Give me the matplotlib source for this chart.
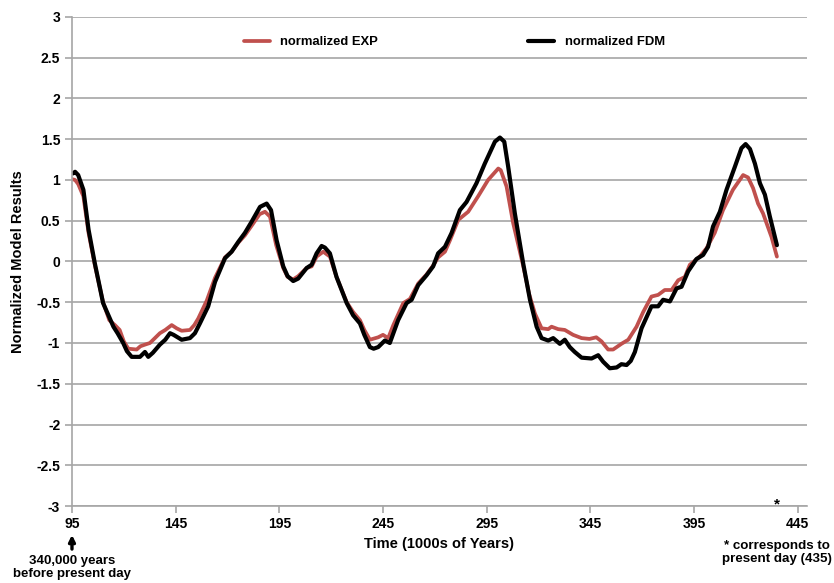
import matplotlib
matplotlib.use("Agg")
import matplotlib.pyplot as plt

plt.rcParams['font.family'] = ['Liberation Sans', 'DejaVu Sans']
plt.rcParams['font.weight'] = 'bold'

# normalized EXP (red)
exp_x = [95, 96.5, 98, 100.5, 103, 106, 110, 113, 115.7, 118, 120, 122.2, 126.2, 128, 130.2,
         132.6, 135, 137.4, 140, 143.1, 145.5, 147.9, 151.9, 154, 155.9, 160, 164, 168.8, 172,
         175.2, 178.4, 181.7, 185.5, 188.1, 190.5, 193.5, 196.9, 199, 201.7, 204.1, 208.2, 210.6,
         213, 216.2, 219.4, 222.6, 227.5, 230.6, 233.9, 236, 238.7, 242.7, 245, 247.5, 250, 254.8,
         258, 262, 266, 269.2, 271.6, 274.9, 277.3, 281.3, 286.1, 290.9, 295.7, 300.6, 301.8,
         304.6, 307.8, 312.6, 315.5, 318.3, 321.5, 324.7, 326.3, 329.5, 332.7, 336.7, 340.8,
         344.6, 347.9, 350.4, 353.6, 356, 360, 363.3, 367.3, 370.5, 374.5, 377.7, 380.9, 384.2,
         387.4, 390.6, 393, 397.8, 401, 405, 409, 413.8, 418.7, 421.1, 423.5, 425.9, 428.3,
         432.4, 435]
exp_y = [1.01, 1.00, 0.95, 0.80, 0.35, -0.04, -0.50, -0.72, -0.78, -0.84, -0.98, -1.07, -1.08,
         -1.04, -1.02, -1.00, -0.94, -0.88, -0.84, -0.78, -0.82, -0.85, -0.84, -0.78, -0.70,
         -0.48, -0.20, 0.05, 0.12, 0.23, 0.32, 0.44, 0.58, 0.61, 0.55, 0.20, -0.08, -0.19, -0.22,
         -0.18, -0.08, -0.06, 0.06, 0.12, 0.06, -0.19, -0.50, -0.62, -0.72, -0.84, -0.96, -0.93,
         -0.90, -0.94, -0.78, -0.51, -0.46, -0.27, -0.16, -0.05, 0.05, 0.12, 0.26, 0.51, 0.61,
         0.80, 1.00, 1.14, 1.12, 0.92, 0.47, -0.05, -0.40, -0.64, -0.82, -0.83, -0.80, -0.83,
         -0.84, -0.90, -0.94, -0.95, -0.93, -0.98, -1.08, -1.08, -1.01, -0.96, -0.80, -0.62,
         -0.43, -0.41, -0.35, -0.35, -0.23, -0.19, -0.04, 0.06, 0.16, 0.35, 0.63, 0.88, 1.06,
         1.03, 0.90, 0.71, 0.59, 0.30, 0.06]

# normalized FDM (black)
fdm_x = [95.5, 96.5, 98, 100.5, 103, 106, 110, 115, 117, 119.7, 121.5, 123.8, 127.8, 130.2,
         131.8, 134, 137.4, 140, 142.3, 144, 147.9, 151.9, 154.3, 156.7, 160.7, 164, 168.8, 172,
         175.2, 178.4, 181.7, 185.7, 188.9, 191, 193.7, 196.9, 199, 201.7, 204.1, 208.2, 210.6,
         213, 215.4, 217, 219.4, 222.6, 227.5, 230.6, 233.9, 236, 238.7, 240.5, 242.7, 245.9,
         248.3, 252.3, 256.4, 258.8, 262, 266, 269.2, 271.6, 274.9, 278.1, 282.1, 285.3, 290.1,
         294.1, 299, 301.4, 303.5, 305.4, 308.6, 312.6, 315.9, 319.1, 321.5, 324.7, 327.1, 330.3,
         332.7, 335.1, 337.5, 340.8, 345.6, 348.8, 351.2, 354.4, 357.7, 360, 362.5, 364.5, 366.5,
         369.7, 374.5, 377.7, 380.1, 383.4, 386.6, 389, 392.2, 396.2, 399.4, 401.8, 404.2, 407.5,
         410.7, 414.7, 417.9, 419.9, 422, 424.4, 426.8, 429.2, 431.6, 435]
fdm_y = [1.08, 1.10, 1.06, 0.88, 0.39, -0.02, -0.51, -0.80, -0.88, -1.00, -1.10, -1.17, -1.17,
         -1.11, -1.17, -1.12, -1.02, -0.96, -0.88, -0.90, -0.96, -0.94, -0.88, -0.76, -0.55,
         -0.25, 0.04, 0.12, 0.24, 0.35, 0.49, 0.67, 0.71, 0.63, 0.26, -0.06, -0.18, -0.24, -0.21,
         -0.08, -0.04, 0.10, 0.19, 0.17, 0.10, -0.19, -0.51, -0.66, -0.76, -0.90, -1.05, -1.07,
         -1.05, -0.97, -1.00, -0.72, -0.51, -0.47, -0.29, -0.17, -0.06, 0.10, 0.18, 0.35, 0.63,
         0.73, 0.96, 1.20, 1.47, 1.52, 1.47, 1.16, 0.59, -0.02, -0.47, -0.80, -0.94, -0.97, -0.94,
         -1.01, -0.96, -1.05, -1.11, -1.18, -1.19, -1.15, -1.23, -1.31, -1.30, -1.26, -1.27,
         -1.22, -1.11, -0.82, -0.55, -0.55, -0.47, -0.49, -0.33, -0.31, -0.12, 0.03, 0.08, 0.18,
         0.43, 0.61, 0.88, 1.16, 1.39, 1.44, 1.38, 1.20, 0.96, 0.82, 0.55, 0.20]

x_ticks = [95, 145, 195, 245, 295, 345, 395, 445]
y_ticks = [-3, -2.5, -2, -1.5, -1, -0.5, 0, 0.5, 1, 1.5, 2, 2.5, 3]

fig = plt.figure(figsize=(8.34, 5.83), dpi=100)
ax = fig.add_axes([0.0863, 0.132, 0.8813, 0.839])

ax.plot(exp_x, exp_y, color='#C0504D', lw=2.7, label='normalized EXP',
        solid_joinstyle='round', solid_capstyle='round')
ax.plot(fdm_x, fdm_y, color='black', lw=3.0, label='normalized FDM',
        solid_joinstyle='round', solid_capstyle='round')

ax.set_xlim(95, 449.5)
ax.set_ylim(-3, 3)
ax.set_xticks(x_ticks)
ax.set_yticks(y_ticks)
ax.set_yticklabels([f'{v:g}' for v in y_ticks])
ax.grid(axis='y', color='#a6a6a6', lw=1.2)
ax.set_axisbelow(True)
for s in ['top', 'right']:
    ax.spines[s].set_visible(False)
for s in ['left', 'bottom']:
    ax.spines[s].set_color('#a6a6a6')
    ax.spines[s].set_linewidth(1.2)
ax.tick_params(axis='both', colors='#a6a6a6', labelcolor='black', labelsize=10, length=5, width=1.2)
ax.tick_params(axis='x', pad=3)

ax.set_xlabel('Time (1000s of Years)', fontsize=10.5, fontweight='bold', labelpad=4)
ax.set_ylabel('Normalized Model Results', fontsize=10.5, fontweight='bold', labelpad=8)

ax.legend(loc='upper center', bbox_to_anchor=(0.52, 0.985), ncol=2, frameon=False,
          handlelength=2.0, columnspacing=11.5, prop={'weight': 'bold', 'size': 9.4})

# notes under the axis
ax.annotate('', xy=(95, -0.059), xytext=(95, -0.088), xycoords=('data', 'axes fraction'),
            arrowprops=dict(arrowstyle='-|>', color='black', lw=2.4, mutation_scale=9,
                            shrinkA=0, shrinkB=0))
ax.text(95, -0.1, '340,000 years\nbefore present day', transform=ax.get_xaxis_transform(),
        ha='center', va='top', fontsize=9.5, fontweight='bold', linespacing=1.15)
ax.text(435, 0.004, '*', transform=ax.get_xaxis_transform(), ha='center', va='center',
        fontsize=11, fontweight='bold')
ax.text(435, -0.07, '* corresponds to\npresent day (435)', transform=ax.get_xaxis_transform(),
        ha='center', va='top', fontsize=9.6, fontweight='bold', linespacing=1.05)

fig.savefig('out.png', dpi=100)
